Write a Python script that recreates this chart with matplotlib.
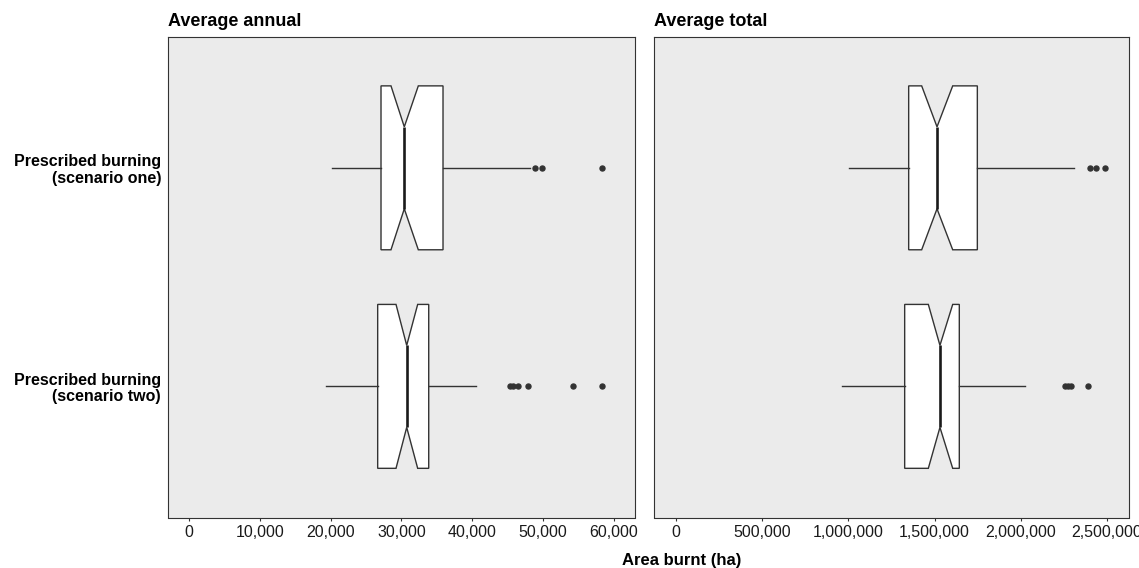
import matplotlib.pyplot as plt
from matplotlib.ticker import StrMethodFormatter

plt.rcParams['font.family'] = ['Liberation Sans', 'DejaVu Sans']

categories = ["Prescribed burning\n(scenario one)", "Prescribed burning\n(scenario two)"]

# average annual area burnt (ha)
annual_whislo = [20150, 19390]
annual_q1 = [27120, 26650]
annual_cilo = [28530, 29240]
annual_med = [30410, 30750]
annual_cihi = [32390, 32300]
annual_q3 = [35880, 33860]
annual_whishi = [48160, 40540]
annual_fliers = [[48870, 49820, 58290],
                 [45340, 45800, 46510, 47840, 54200, 58290]]

# average total area burnt (ha)
total_whislo = [1005000, 964700]
total_q1 = [1349600, 1326400]
total_cilo = [1425000, 1463600]
total_med = [1514000, 1531000]
total_cihi = [1605000, 1605000]
total_q3 = [1747900, 1643300]
total_whishi = [2310600, 2022600]
total_fliers = [[2401000, 2434000, 2488000],
                [2258000, 2272000, 2289000, 2388000]]

annual_ticks = [0, 10000, 20000, 30000, 40000, 50000, 60000]
total_ticks = [0, 500000, 1000000, 1500000, 2000000, 2500000]


def make_stats(whislo, q1, cilo, med, cihi, q3, whishi, fliers):
    stats = []
    for i in range(len(med)):
        stats.append(dict(whislo=whislo[i], q1=q1[i], cilo=cilo[i], med=med[i],
                          cihi=cihi[i], q3=q3[i], whishi=whishi[i], fliers=fliers[i]))
    return stats


W, H = 1139, 568
fig = plt.figure(figsize=(W / 100, H / 100), dpi=100)

top, bottom = 36.7, 517.5
ax1 = fig.add_axes([168 / W, (H - bottom) / H, (635 - 168) / W, (bottom - top) / H])
ax2 = fig.add_axes([654.3 / W, (H - bottom) / H, (1129 - 654.3) / W, (bottom - top) / H])

panels = [
    (ax1, make_stats(annual_whislo, annual_q1, annual_cilo, annual_med, annual_cihi,
                     annual_q3, annual_whishi, annual_fliers),
     "Average annual", annual_ticks, (-2970, 63000)),
    (ax2, make_stats(total_whislo, total_q1, total_cilo, total_med, total_cihi,
                     total_q3, total_whishi, total_fliers),
     "Average total", total_ticks, (-125900, 2627600)),
]

edge = '#333333'
for ax, stats, title, ticks, xlim in panels:
    ax.bxp(stats, positions=[1, 2], widths=0.75, orientation='horizontal',
           shownotches=True, showcaps=False, patch_artist=True,
           boxprops=dict(facecolor='white', edgecolor=edge, linewidth=1.0),
           whiskerprops=dict(color=edge, linewidth=1.0),
           medianprops=dict(color='#1a1a1a', linewidth=1.9, solid_capstyle='butt'),
           flierprops=dict(marker='o', markersize=3.6, markerfacecolor=edge,
                           markeredgecolor=edge, linestyle='none'))
    ax.set_facecolor('#EBEBEB')
    for s in ax.spines.values():
        s.set_color(edge)
        s.set_linewidth(0.8)
    ax.set_xlim(*xlim)
    ax.set_ylim(2.6, 0.4)
    ax.set_xticks(ticks)
    ax.xaxis.set_major_formatter(StrMethodFormatter('{x:,.0f}'))
    ax.tick_params(axis='x', length=2.3, width=0.8, color=edge, pad=3.3,
                   labelsize=11.5, labelcolor='#1a1a1a')
    ax.set_title(title, loc='left', fontsize=13, fontweight='bold', pad=7.5)

ax1.set_yticks([1, 2])
ax1.set_yticklabels(categories, fontsize=11.5, fontweight='bold', ha='right',
                    multialignment='right', linespacing=1.1)
ax1.tick_params(axis='y', length=0, pad=5)
ax2.set_yticks([])

fig.text(682 / W, 1 - 565 / H, "Area burnt (ha)", ha='center', va='baseline',
         fontsize=12, fontweight='bold')

fig.savefig('out.png', dpi=100)
